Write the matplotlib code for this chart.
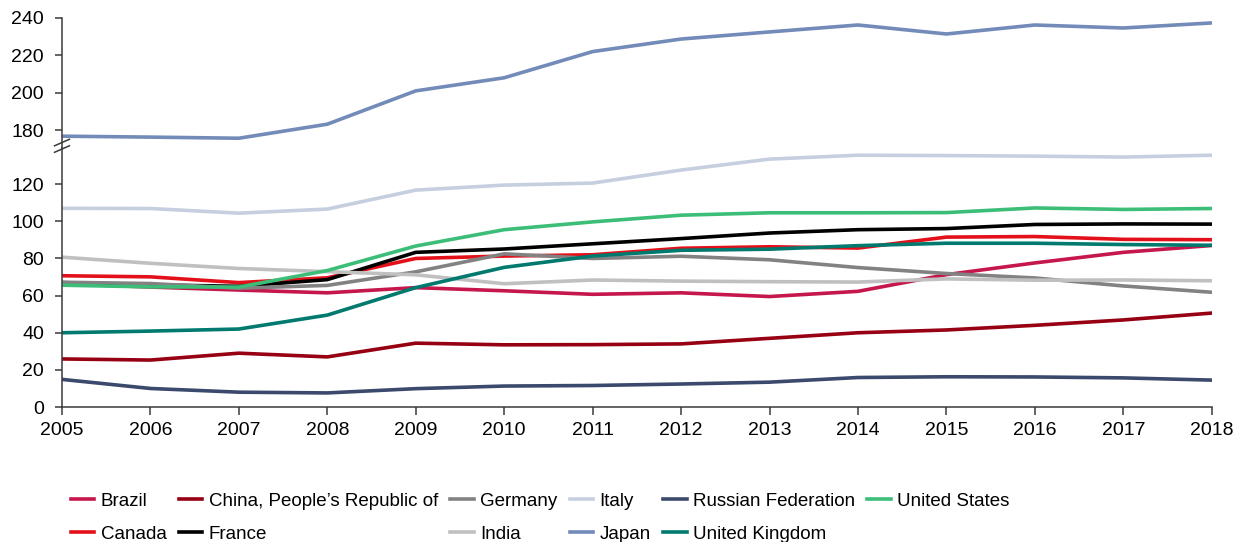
import matplotlib
matplotlib.use("Agg")
import matplotlib.pyplot as plt
from matplotlib.lines import Line2D

plt.rcParams["font.family"] = ["Liberation Sans", "DejaVu Sans"]

years = list(range(2005, 2019))

brazil = [66.5, 64.6, 63.0, 61.5, 64.3, 62.6, 60.7, 61.5, 59.5, 62.3, 71.3, 77.6, 83.3, 87.0]
canada = [70.7, 70.1, 67.0, 69.6, 80.0, 81.3, 82.0, 85.5, 86.3, 85.6, 91.5, 91.8, 90.3, 90.1]
china = [25.9, 25.3, 29.0, 27.0, 34.4, 33.5, 33.6, 34.0, 37.0, 40.0, 41.5, 44.0, 46.9, 50.6]
france = [67.0, 65.8, 65.0, 68.6, 83.3, 85.1, 87.9, 90.7, 93.7, 95.5, 96.1, 98.3, 98.6, 98.5]
germany = [67.2, 66.5, 64.0, 65.5, 72.8, 82.5, 80.0, 81.2, 79.3, 75.1, 71.9, 69.5, 65.2, 61.8]
india = [80.7, 77.4, 74.6, 72.9, 71.2, 66.4, 68.4, 67.8, 67.5, 67.3, 69.0, 68.3, 68.4, 68.0]
italy = [107.0, 106.9, 104.4, 106.6, 116.8, 119.5, 120.6, 127.6, 133.5, 135.6, 135.4, 135.1, 134.6, 135.6]
japan = [176.8, 176.3, 175.7, 183.2, 201.0, 208.0, 222.0, 228.7, 232.5, 236.2, 231.4, 236.2, 234.6, 237.3]
russia = [14.9, 10.0, 8.0, 7.6, 9.9, 11.3, 11.6, 12.4, 13.4, 15.9, 16.3, 16.2, 15.7, 14.5]
uk = [40.0, 40.9, 42.0, 49.5, 64.3, 75.2, 81.3, 84.4, 85.0, 86.9, 88.2, 88.2, 87.5, 87.1]
us = [65.6, 64.7, 64.6, 73.5, 86.7, 95.5, 99.7, 103.3, 104.6, 104.6, 104.7, 107.2, 106.4, 106.9]

series = [
    ("Brazil", brazil, "#C5174B"),
    ("Canada", canada, "#E3101A"),
    ("China, People\u2019s Republic of", china, "#960012"),
    ("France", france, "#000000"),
    ("Germany", germany, "#828282"),
    ("India", india, "#C0C0C0"),
    ("Italy", italy, "#C6CFE0"),
    ("Japan", japan, "#738BB8"),
    ("Russian Federation", russia, "#3B4A6C"),
    ("United Kingdom", uk, "#007A6E"),
    ("United States", us, "#3DBE78"),
]

spine_col = "#3A3A3A"
fig = plt.figure(figsize=(12.39, 5.42), dpi=100)
ax_lo = fig.add_axes([0.050, 0.249, 0.928, 0.478])
ax_hi = fig.add_axes([0.050, 0.727, 0.928, 0.240], sharex=ax_lo)

for ax in (ax_lo, ax_hi):
    for name, vals, col in series:
        ax.plot(years, vals, color=col, lw=2.6, label=name, solid_joinstyle="round")
    ax.spines["right"].set_visible(False)
    ax.spines["left"].set_color(spine_col)
    ax.spines["left"].set_linewidth(1.1)
    ax.tick_params(axis="y", direction="out", length=5, width=1.1, color=spine_col,
                   labelsize=14, pad=8)
    ax.set_xlim(2005, 2018)

ax_lo.set_ylim(0, 139.5)
ax_lo.set_yticks(range(0, 121, 20))
ax_lo.spines["top"].set_visible(False)
ax_lo.spines["bottom"].set_color(spine_col)
ax_lo.spines["bottom"].set_linewidth(1.1)
ax_lo.set_xticks(years)
ax_lo.tick_params(axis="x", direction="out", length=6, width=1.1, color=spine_col,
                  labelsize=14, pad=5)

ax_hi.set_ylim(170.5, 240)
ax_hi.set_yticks(range(180, 241, 20))
ax_hi.spines["top"].set_visible(False)
ax_hi.spines["bottom"].set_visible(False)
ax_hi.tick_params(axis="x", bottom=False, labelbottom=False)
ax_hi.patch.set_alpha(0)

# break marks on the y axis
x0 = 0.050
for yb in (0.725, 0.737):
    fig.add_artist(Line2D([x0 - 0.006, x0 + 0.006], [yb - 0.006, yb + 0.006],
                          transform=fig.transFigure, color=spine_col, lw=1.1))

handles, labels = ax_lo.get_legend_handles_labels()
fig.legend(handles, labels, loc="upper left", bbox_to_anchor=(0.057, 0.091),
           ncol=6, frameon=False, fontsize=13.5, handlelength=1.25,
           handletextpad=0.35, columnspacing=0.65, labelspacing=0.85,
           borderpad=0, borderaxespad=0)

fig.savefig("out.png", dpi=100)
